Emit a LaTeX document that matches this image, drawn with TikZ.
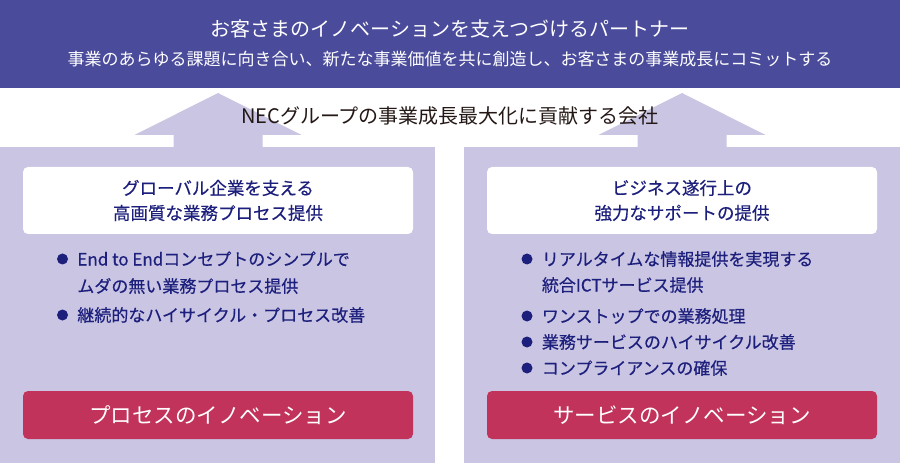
\documentclass[tikz,border=0pt]{standalone}
\usepackage{fontspec}
\setmainfont{Noto Sans CJK JP}
\newfontfamily\medfont{Noto Sans CJK JP}[FakeBold=0.4]
\usetikzlibrary{positioning}
\definecolor{bandblue}{HTML}{4A4B9B}
\definecolor{lavender}{HTML}{C9C5E3}
\definecolor{innored}{HTML}{C1335B}
\definecolor{navytext}{HTML}{1D1F7C}
\definecolor{inkblack}{HTML}{231815}

\begin{document}
\begin{tikzpicture}[x=1pt,y=-1pt]
        \tikzstyle{every node}=[inner sep=0pt]
        \tikzstyle{band text}=[text=white]
        \tikzstyle{head box}=[fill=white, rounded corners=5pt, minimum width=390pt, minimum height=67pt, align=center, text=navytext, font=\medfont\fontsize{17.5}{25}\selectfont]
        \tikzstyle{goal box}=[fill=innored, rounded corners=5pt, minimum width=390pt, minimum height=48pt, text=white, font=\fontsize{21.5}{26}\selectfont]
        \tikzstyle{item}=[anchor=west, text=navytext, font=\medfont\fontsize{17}{20}\selectfont, text height=15pt, text depth=2pt]
        \tikzstyle{dot}=[circle, fill=navytext, minimum size=11pt]
        \useasboundingbox (0,0) rectangle (900,465);
        % top band
        \fill[bandblue] (0,0) rectangle (900,88);
        \node[band text, font=\fontsize{20}{24}\selectfont] (title) at (450,29) {お客さまのイノベーションを支えつづけるパートナー};
        \node[band text, font=\fontsize{17}{20}\selectfont] (subtitle) at (450,59) {事業のあらゆる課題に向き合い、新たな事業価値を共に創造し、お客さまの事業成長にコミットする};
        % panels and arrows
        \fill[lavender] (0,147) rectangle (435,463);
        \fill[lavender] (464,147) rectangle (900,463);
        \foreach \cx in {218,682}
            \fill[lavender] (\cx-44.5,147) -- (\cx-44.5,135) -- (\cx-83.5,135) -- (\cx,93)
                -- (\cx+83.5,135) -- (\cx+44.5,135) -- (\cx+44.5,147) -- cycle;
        \node[text=inkblack, font=\fontsize{20}{24}\selectfont] (company) at (450,116) {NECグループの事業成長最大化に貢献する会社};
        % left panel
        \node[head box] (lhead) at (218,200.5) {グローバル企業を支える\\高画質な業務プロセス提供};
        \node[dot] (ld1) at (62.5,259) {};
        \node[item, right=9pt of ld1] (li1) {End to Endコンセプトのシンプルで};
        \node[item] (li1b) at ([yshift=-27pt]li1.west) {ムダの無い業務プロセス提供};
        \node[dot] (ld2) at (62.5,315) {};
        \node[item, right=9pt of ld2] (li2) {継続的なハイサイクル・プロセス改善};
        \node[goal box] (lgoal) at (218,415) {プロセスのイノベーション};
        % right panel
        \node[head box] (rhead) at (682,200.5) {ビジネス遂行上の\\強力なサポートの提供};
        \node[dot] (rd1) at (527,259) {};
        \node[item, right=9pt of rd1] (ri1) {リアルタイムな情報提供を実現する};
        \node[item] (ri1b) at ([yshift=-26pt]ri1.west) {統合ICTサービス提供};
        \node[dot] (rd2) at (527,316) {};
        \node[item, right=9pt of rd2] (ri2) {ワンストップでの業務処理};
        \node[dot] (rd3) at (527,342) {};
        \node[item, right=9pt of rd3] (ri3) {業務サービスのハイサイクル改善};
        \node[dot] (rd4) at (527,368) {};
        \node[item, right=9pt of rd4] (ri4) {コンプライアンスの確保};
        \node[goal box] (rgoal) at (682,415) {サービスのイノベーション};
    \end{tikzpicture}
\end{document}
